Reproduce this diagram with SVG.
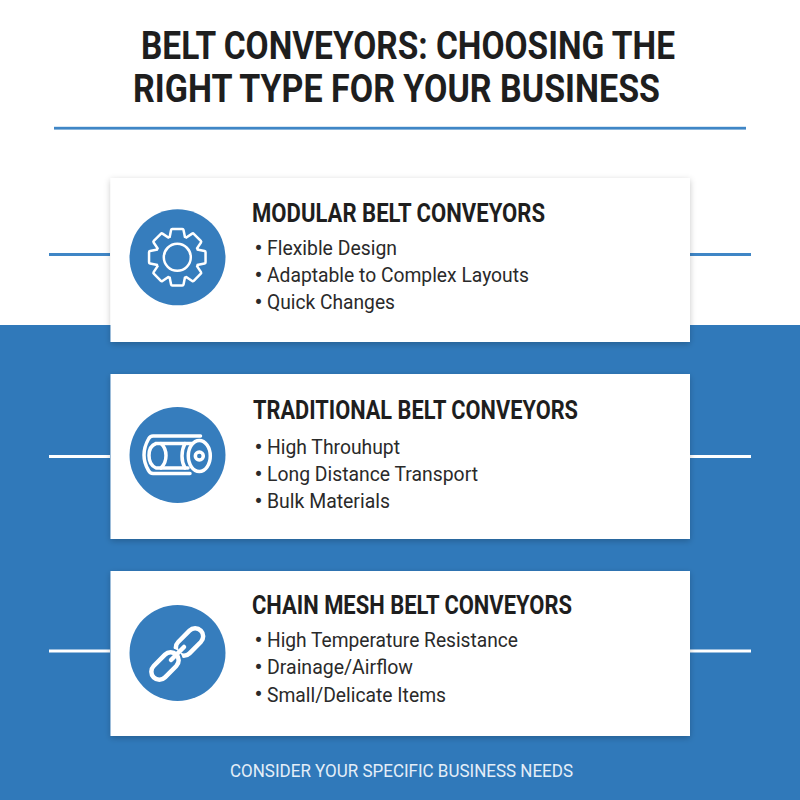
<svg xmlns="http://www.w3.org/2000/svg" width="800" height="800" viewBox="0 0 800 800">
<style>
text{font-family:Roboto,"Liberation Sans",sans-serif;fill:#1e1e1e}
.title{font-size:39.500px;font-weight:700}
.head{font-size:25.500px;font-weight:700}
.item{font-size:20.500px;font-weight:400;fill:#2a2a2a}
text.bul{font-family:"DejaVu Sans",sans-serif;font-size:17px;text-anchor:middle;fill:#2a2a2a}
.foot{font-size:18.500px;fill:#e4eef8}
.card{fill:#fff;filter:url(#sh)}
.disc{fill:#367dbd}
.ln{fill:none;stroke:#fff;stroke-width:3.500;stroke-linecap:round;stroke-linejoin:round}
</style>
<defs>
<filter id="sh" x="-5%" y="-10%" width="110%" height="125%"><feDropShadow dx="0" dy="2" stdDeviation="3" flood-color="#000" flood-opacity=".22"/></filter>
<g id="gearshape">
<circle r="20.500"/>
<path id="tooth" d="M-7 -17L-5 -27H5L7 -17Z"/>
<use href="#tooth" transform="rotate(45)"/>
<use href="#tooth" transform="rotate(90)"/>
<use href="#tooth" transform="rotate(135)"/>
<use href="#tooth" transform="rotate(180)"/>
<use href="#tooth" transform="rotate(225)"/>
<use href="#tooth" transform="rotate(270)"/>
<use href="#tooth" transform="rotate(315)"/>
</g>
</defs>
<rect width="800" height="800" fill="#fff"/>
<rect y="325" width="800" height="475" fill="#3079ba"/>
<g id="header">
<text class="title" x="141" y="58.500" textLength="534" lengthAdjust="spacingAndGlyphs">BELT CONVEYORS: CHOOSING THE</text>
<text class="title" x="133" y="101.500" textLength="527" lengthAdjust="spacingAndGlyphs">RIGHT TYPE FOR YOUR BUSINESS</text>
<rect x="54" y="126.800" width="692" height="2.800" fill="#3f86c6"/>
</g>
<g id="connectors" fill="none" stroke-width="3">
<path d="M49 254.500H110M690 254.500H751" stroke="#3f86c6"/>
<path d="M49 456.500H110M690 456.500H751" stroke="#fff"/>
<path d="M49 651H110M690 651H751" stroke="#fff"/>
</g>
<g id="node-modular">
<rect class="card" x="110.500" y="178" width="579.500" height="164"/>
<circle class="disc" cx="177.500" cy="257.300" r="48"/>
<g transform="translate(177.300 257.300)">
<use href="#gearshape" fill="none" stroke="#fff" stroke-width="5" stroke-linejoin="round"/>
<use href="#gearshape" fill="#367dbd"/>
<circle r="13.500" fill="none" stroke="#fff" stroke-width="2.500"/>
</g>
<text class="head" x="252" y="222" textLength="293" lengthAdjust="spacingAndGlyphs">MODULAR BELT CONVEYORS</text>
<text class="bul" x="258.500" y="254">•</text><text class="item" x="267" y="255" textLength="130" lengthAdjust="spacingAndGlyphs">Flexible Design</text>
<text class="bul" x="258.500" y="281">•</text><text class="item" x="267" y="282" textLength="262" lengthAdjust="spacingAndGlyphs">Adaptable to Complex Layouts</text>
<text class="bul" x="258.500" y="308">•</text><text class="item" x="267" y="309" textLength="128" lengthAdjust="spacingAndGlyphs">Quick Changes</text>
</g>
<g id="node-traditional">
<rect class="card" x="110.500" y="374" width="579.500" height="165"/>
<circle class="disc" cx="177.500" cy="455" r="48"/>
<g class="ln">
<path d="M200.500 436H153Q150 436 148.500 439Q144 447 144 455Q144 463 148.500 470.500Q150 473.500 153 473.500H190"/>
<path d="M192 443.500H156Q149 446 149 455.500Q149 465 156 468H188"/>
<path d="M161 443.500Q166 448 166 455.500Q166 463 161 468"/>
<ellipse cx="199.300" cy="456" rx="11" ry="15.500"/>
<path d="M185 443.500Q182 449 182 456Q182 463 185 468"/>
<circle cx="199.300" cy="456" r="4"/>
</g>
<text class="head" x="253" y="419" textLength="325" lengthAdjust="spacingAndGlyphs">TRADITIONAL BELT CONVEYORS</text>
<text class="bul" x="258.500" y="453">•</text><text class="item" x="267" y="454" textLength="133" lengthAdjust="spacingAndGlyphs">High Throuhupt</text>
<text class="bul" x="258.500" y="480">•</text><text class="item" x="267" y="481" textLength="211" lengthAdjust="spacingAndGlyphs">Long Distance Transport</text>
<text class="bul" x="258.500" y="507">•</text><text class="item" x="267" y="508" textLength="123" lengthAdjust="spacingAndGlyphs">Bulk Materials</text>
</g>
<g id="node-chain">
<rect class="card" x="110.500" y="571" width="579.500" height="165"/>
<circle class="disc" cx="177.500" cy="653" r="48"/>
<g fill="none" stroke-width="4.500">
<rect x="-8" y="-16" width="16" height="32" rx="8" transform="translate(189.500 642) rotate(45)" stroke="#fff"/>
<g transform="translate(165 666) rotate(45)">
<rect x="-8" y="-16" width="16" height="32" rx="8" stroke="#367dbd" stroke-width="8"/>
<rect x="-8" y="-16" width="16" height="32" rx="8" stroke="#fff"/>
</g>
<path d="M171 660L184 647" stroke="#fff" stroke-linecap="round"/>
</g>
<text class="head" x="252" y="614" textLength="320" lengthAdjust="spacingAndGlyphs">CHAIN MESH BELT CONVEYORS</text>
<text class="bul" x="258.500" y="646">•</text><text class="item" x="267" y="647" textLength="251" lengthAdjust="spacingAndGlyphs">High Temperature Resistance</text>
<text class="bul" x="258.500" y="673">•</text><text class="item" x="267" y="674" textLength="146" lengthAdjust="spacingAndGlyphs">Drainage/Airflow</text>
<text class="bul" x="258.500" y="700">•</text><text class="item" x="267" y="701.500" textLength="179" lengthAdjust="spacingAndGlyphs">Small/Delicate Items</text>
</g>
<text id="footer" class="foot" x="230" y="777" textLength="343" lengthAdjust="spacingAndGlyphs">CONSIDER YOUR SPECIFIC BUSINESS NEEDS</text>
</svg>
